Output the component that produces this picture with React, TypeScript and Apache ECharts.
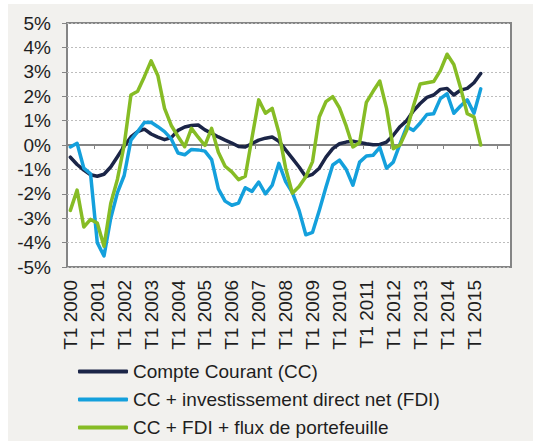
import React, { useEffect, useRef } from "react";
import * as echarts from "echarts";

const years = [2000, 2001, 2002, 2003, 2004, 2005, 2006, 2007, 2008, 2009, 2010, 2011, 2012, 2013, 2014, 2015];
const quarters = ["T1", "T2", "T3", "T4"];
const paddingCategories = ["T1 2016", "T2 2016"];
const lastLabelYear = 2015;

const seriesNames = [
  "Compte Courant (CC)",
  "CC + investissement direct net (FDI)",
  "CC + FDI + flux de portefeuille",
];

const ccValues = [
  -0.5, -0.8, -1.03, -1.22, -1.28, -1.2, -0.9, -0.48, -0.05, 0.33,
  0.55, 0.65, 0.45, 0.32, 0.22, 0.3, 0.6, 0.74, 0.8, 0.82,
  0.62, 0.48, 0.33, 0.2, 0.08, -0.06, -0.08, 0.06, 0.2, 0.28,
  0.33, 0.15, -0.2, -0.55, -0.9, -1.3, -1.2, -0.95, -0.5, -0.15,
  0.05, 0.12, 0.15, 0.1, 0.05, 0.01, 0.02, 0.12, 0.4, 0.75,
  1.0, 1.4, 1.7, 1.95, 2.05, 2.28, 2.32, 2.05, 2.25, 2.32,
  2.55, 2.93,
];

const fdiValues = [
  -0.08, 0.07, -0.95, -1.18, -4.0, -4.55, -3.0, -1.95, -1.25, 0.2,
  0.55, 0.92, 0.93, 0.75, 0.55, 0.25, -0.33, -0.4, -0.18, -0.2,
  -0.25, -0.6, -1.8, -2.3, -2.47, -2.38, -1.75, -1.9, -1.52, -2.0,
  -1.65, -0.75, -1.5, -1.95, -2.68, -3.68, -3.58, -2.68, -1.72, -0.82,
  -0.62, -1.0, -1.65, -0.7, -0.45, -0.42, -0.1, -0.95, -0.7, 0.05,
  0.75, 0.6, 0.9, 1.25, 1.28, 1.9, 2.1, 1.3, 1.6, 1.85,
  1.3, 2.3,
];

const portfolioValues = [
  -2.68, -1.85, -3.36, -3.05, -3.2, -4.15, -2.4, -1.4, 0.0, 2.05,
  2.2, 2.8, 3.45, 2.85, 1.5, 0.8, 0.35, -0.07, 0.68, 0.32,
  -0.02, 0.68, -0.3, -0.87, -1.1, -1.42, -1.28, 0.3, 1.85, 1.3,
  1.5, 0.5, -0.95, -1.98, -1.7, -1.3, -0.68, 1.15, 1.78, 1.98,
  1.52, 0.78, -0.08, 0.1, 1.75, 2.2, 2.62, 1.5, -0.15, 0.0,
  0.6, 1.6, 2.5, 2.55, 2.6, 3.05, 3.72, 3.3, 2.35, 1.28,
  1.15, 0.0,
];

const colors = ["#1b2547", "#14a0dc", "#86bc25"];

const categories: string[] = [];
years.forEach((y) => quarters.forEach((q) => categories.push(q + " " + y)));
paddingCategories.forEach((c) => categories.push(c));

const FONT = "'Liberation Sans', Arial, Helvetica, sans-serif";

export default function App() {
  const ref = useRef<HTMLDivElement>(null);
  useEffect(() => {
    if (!ref.current) return;
    const chart = echarts.init(ref.current, undefined, { renderer: "svg" });
    const dataSets = [ccValues, fdiValues, portfolioValues];
    chart.setOption({
      animation: false,
      backgroundColor: "transparent",
      textStyle: { fontFamily: FONT },
      grid: {
        left: 67,
        right: 27,
        top: 23,
        bottom: 174,
        show: true,
        backgroundColor: "#ffffff",
        borderColor: "#858585",
        borderWidth: 2,
      },
      legend: {
        orient: "vertical",
        left: 78,
        top: 362,
        height: 120,
        padding: 0,
        itemWidth: 50,
        itemHeight: 4,
        itemGap: 9,
        icon: "roundRect",
        textStyle: { fontSize: 19, color: "#1e1e1e", fontFamily: FONT },
        data: seriesNames,
      },
      xAxis: [
        {
          type: "category",
          data: categories,
          position: "bottom",
          boundaryGap: true,
          axisLine: { show: false, onZero: false },
          axisTick: { show: false },
          splitLine: { show: false },
          axisLabel: {
            interval: 3,
            rotate: 90,
            margin: 13,
            fontSize: 19,
            color: "#1e1e1e",
            fontFamily: FONT,
            formatter: (v: string) => {
              const parts = v.split(" ");
              return parts[0] === "T1" && Number(parts[1]) <= lastLabelYear ? v : "";
            },
          },
        },
        {
          type: "category",
          data: categories,
          position: "bottom",
          boundaryGap: true,
          axisLine: { show: true, onZero: true, lineStyle: { color: "#858585", width: 2 } },
          axisTick: { show: true, interval: 3, length: 4, inside: false, lineStyle: { color: "#858585", width: 1 } },
          axisLabel: { show: false },
          splitLine: { show: false },
        },
      ],
      yAxis: {
        type: "value",
        min: -5,
        max: 5,
        interval: 1,
        axisLine: { show: false },
        axisTick: { show: true, length: 5, lineStyle: { color: "#858585" } },
        axisLabel: {
          formatter: "{value}%",
          fontSize: 19,
          color: "#1e1e1e",
          margin: 16,
          fontFamily: FONT,
        },
        splitLine: { show: true, lineStyle: { type: [2, 2], color: "#bdbdbd", width: 1 } },
      },
      series: seriesNames.map((name, i) => ({
        name,
        type: "line",
        xAxisIndex: 0,
        data: dataSets[i],
        symbol: "none",
        showSymbol: false,
        lineStyle: { color: colors[i], width: 3.5, join: "round", cap: "round" },
        itemStyle: { color: colors[i] },
        z: 3 + i,
      })),
    });
    return () => chart.dispose();
  }, []);

  return (
    <div style={{ position: "fixed", left: 0, top: 0, width: 538, height: 441, background: "#ffffff", overflow: "hidden" }}>
      <div style={{ position: "absolute", left: 8, top: 4, width: 525, height: 437, background: "#f2f1ee" }} />
      <div ref={ref} style={{ position: "absolute", left: 0, top: 0, width: 538, height: 441 }} />
    </div>
  );
}
